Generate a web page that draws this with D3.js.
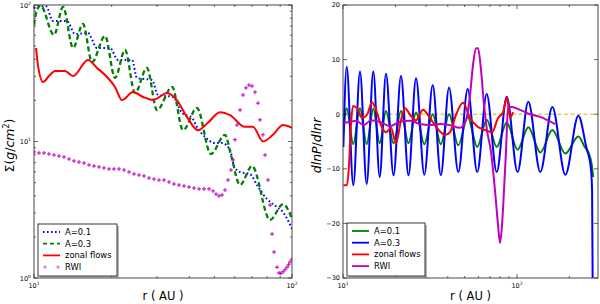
<!DOCTYPE html>
<html><head><meta charset="utf-8">
<script src="https://cdn.jsdelivr.net/npm/d3@7/dist/d3.min.js"></script>
<style>
body{margin:0;background:#fff}
svg{display:block}
text{font-family:"DejaVu Sans",sans-serif;fill:#000}
</style></head>
<body><svg id="c" width="600" height="304"></svg>
<script>
// ---------- DATA (left panel: surface density, [r (AU), Sigma (g/cm^2)]) ----------
const sigmaA01 = [[10,95.1],[10.55,98],[11.13,98],[11.85,76.3],[13.43,76.3],[14.42,61.3],[16.19,62.4],[17.55,48.4],[19.71,48.4],[21.16,39.6],[23.98,39.6],[25.07,29.2],[28.67,28.2],[30.24,21.9],[34.57,21.2],[37.47,16.2],[40.96,14.9],[42.8,12.8],[46.0,10.8],[50.3,9.75],[53.6,9.75],[57.5,8.66],[59.6,6.61],[62.9,5.98],[68.7,5.78],[73.1,4.80],[80.0,3.79],[87.5,3.31],[92.3,3.04],[100,2.29]];
const sigmaA03 = [[10,71.4],[10.27,92],[10.6,99],[11.95,60.3],[12.96,96.7],[14.17,48.5],[15.48,72.6],[16.79,38.2],[18.85,59.3],[20.61,29.2],[22.53,46.8],[24.63,22.7],[27.4,34.6],[29.97,17.0],[34.3,25.1],[37.8,12.1],[42.8,17.6],[48.5,8.1],[55.0,11.2],[58.0,7.96],[62.9,4.8],[70.0,6.61],[82.2,2.66],[92.3,3.48],[100,2.71]];
const sigmaZonal = [[10.18,48.4],[10.36,36.3],[10.84,27.3],[11.43,30.2],[12.06,32.9],[13.19,32.9],[14.17,30.2],[16.19,39.6],[17.55,34.6],[19.19,29.7],[20.61,25.1],[21.94,20.1],[24.19,23.0],[26.5,21.2],[28.9,20.1],[32.8,22.7],[35.8,20.1],[39.2,15.1],[43.2,12.1],[47.2,13.7],[52.6,16.4],[57.5,15.6],[65.7,12.8],[70.6,12.8],[77.2,10.0],[84.4,11.2],[92.3,13.2],[100,12.6]];
const sigmaRWI = [[10.00,8.38],[10.45,8.24],[10.93,8.24],[11.43,8.10],[11.95,7.96],[12.50,7.83],[13.07,7.70],[13.67,7.44],[14.29,7.20],[14.94,7.07],[15.62,6.96],[16.34,6.73],[17.08,6.61],[17.86,6.51],[18.67,6.40],[19.53,6.29],[20.42,6.29],[21.35,6.29],[22.33,6.18],[23.35,5.98],[24.41,5.78],[25.53,5.68],[26.69,5.59],[27.91,5.40],[29.18,5.31],[30.51,5.22],[31.90,5.22],[33.37,5.05],[34.88,4.88],[36.48,4.80],[38.14,4.72],[39.88,4.64],[41.70,4.56],[43.61,4.49],[45.60,4.49],[47.69,4.49],[49.42,4.34],[50.75,4.12],[52.13,3.99],[53.55,4.06],[55.0,4.41],[56.5,5.22],[58.0,6.18],[59.1,7.32],[60.1,10.3],[61.2,13.2],[62.9,17.0],[64.6,21.9],[66.3,24.7],[68.1,25.9],[70.0,25.5],[71.9,23.0],[73.8,19.1],[75.2,14.4],[77.2,11.2],[78.6,7.96],[80.7,5.22],[82.2,3.42],[83.7,2.10],[85.2,1.55],[87.5,1.20],[89.0,1.09],[90.5,1.08],[92.3,1.11],[94.0,1.15],[95.6,1.20],[97.0,1.25],[98.2,1.31],[100,1.37]];

// ---------- DATA (right panel: dlnP/dlnr, [r (AU), value]) ----------
const dlnpA01 = [[10.05,-3.5],[10.50,1.1],[11.46,-5.5],[12.52,1.1],[13.68,-5.5],[14.93,1.0],[16.25,-5.3],[17.66,0.6],[19.51,-5.3],[21.54,0.6],[23.79,-5.3],[26.28,0.3],[29.33,-5.5],[32.78,0.0],[36.48,-5.5],[40.67,0.0],[45.98,-5.7],[52.07,-0.5],[59.06,-6.0],[66.97,-1.0],[76.43,-6.0],[87.28,-1.5],[100.7,-6.5],[116.1,-2.4],[136.1,-7.0],[159.6,-2.9],[189.6,-7.2],[225.1,-4.1],[245,-6],[257,-7],[268,-9],[274,-11.5]];
const dlnpA03 = [[10.05,-6],[10.50,8.7],[11.46,-13.0],[12.52,7.8],[13.68,-12.8],[14.93,7.8],[16.25,-11.5],[17.66,7.4],[19.51,-11.2],[21.54,7.0],[23.79,-11.2],[26.28,6.6],[29.33,-11.1],[32.78,5.35],[36.48,-11.2],[40.67,4.9],[45.98,-10.6],[52.07,4.6],[59.06,-10.6],[66.97,3.7],[76.43,-10.6],[87.28,3.2],[100.7,-10.6],[116.1,2.3],[136.1,-10.6],[159.6,1.3],[189.6,-11.1],[225.1,-0.3],[250,-6],[266,-10],[270,-14],[272,-30]];
const dlnpZonal = [[10.07,-13.0],[10.54,-13.0],[10.83,-9.3],[11.11,-2.0],[11.41,1.5],[12.04,1.1],[12.86,-0.7],[13.74,-0.1],[14.68,2.2],[15.48,0.8],[16.53,-2.0],[17.66,-3.3],[18.87,-2.5],[20.16,-5.3],[21.54,-1.1],[22.71,1.1],[24.27,-0.1],[26.28,-1.1],[28.83,0.8],[31.62,-0.7],[34.68,-2.5],[38.56,-3.8],[41.21,-3.3],[44.61,-0.1],[48.94,2.1],[53.70,-0.7],[58.90,-2.2],[65.5,-2.9],[71.8,-3.3],[77.8,-0.7],[83.1,0.4],[87.6,3.0],[91.2,-0.7],[94.8,0.4]];
const dlnpRWI = [[10.07,-1.6],[10.97,-1.4],[11.88,-1.2],[13.2,-2.0],[14.49,-1.1],[16.31,-1.4],[18.63,-2.2],[21.26,-1.4],[24.27,-1.2],[27.71,-1.8],[31.62,-2.0],[36.10,-1.8],[41.21,-2.0],[47.03,-2.5],[50.92,-1.1],[53.70,3.5],[55.86,9.0],[58.12,12.1],[59.69,12.1],[62.1,8.1],[64.6,1.7],[67.2,-2.9],[70.9,-6.9],[74.7,-13.9],[77.8,-20.3],[79.9,-23.6],[82.0,-20.3],[84.2,-13.9],[86.5,-6.6],[88.8,1.3],[93.6,1.3],[104.0,0.8],[118.8,0.0],[135.6,-0.5],[165.4,-1.8]];

const legendLeft = ["A=0.1","A=0.3","zonal flows","RWI"];
const legendRight = ["A=0.1","A=0.3","zonal flows","RWI"];
const leftYTicks = [1,10,100];
const leftXTicks = [10,100];
const rightYTicks = [-30,-20,-10,0,10,20];
const rightXTicks = [10,100];

// ---------- COLORS ----------
const C = {b:"#0000ff", g:"#007f00", r:"#ff0000", m:"#bf00bf", y:"#bfbf00"};

const svg = d3.select("#c");

function supLabel(sel, base, exp, fs){
  sel.append("tspan").text(base);
  sel.append("tspan").attr("dy",-fs*0.45).attr("font-size",fs*0.7).text(exp);
}

function frameAndTicks(g, x, y, xMaj, xMin, yMaj, yMin, box){
  const [x0,x1,y0,y1] = box;
  const t = g.append("g").attr("stroke","#000").attr("stroke-width",0.6);
  xMaj.forEach(v=>{const px=x(v);
    t.append("line").attr("x1",px).attr("x2",px).attr("y1",y1).attr("y2",y1-4);
    t.append("line").attr("x1",px).attr("x2",px).attr("y1",y0).attr("y2",y0+4);});
  xMin.forEach(v=>{const px=x(v);
    t.append("line").attr("x1",px).attr("x2",px).attr("y1",y1).attr("y2",y1-2);
    t.append("line").attr("x1",px).attr("x2",px).attr("y1",y0).attr("y2",y0+2);});
  yMaj.forEach(v=>{const py=y(v);
    t.append("line").attr("x1",x0).attr("x2",x0+4).attr("y1",py).attr("y2",py);
    t.append("line").attr("x1",x1).attr("x2",x1-4).attr("y1",py).attr("y2",py);});
  yMin.forEach(v=>{const py=y(v);
    t.append("line").attr("x1",x0).attr("x2",x0+2).attr("y1",py).attr("y2",py);
    t.append("line").attr("x1",x1).attr("x2",x1-2).attr("y1",py).attr("y2",py);});
  g.append("rect").attr("x",x0).attr("y",y0).attr("width",x1-x0).attr("height",y1-y0)
    .attr("fill","none").attr("stroke","#333").attr("stroke-width",0.9);
}

function minorLog(lo, hi){
  const out=[];
  for(let d=1; d<=1000; d*=10) for(let k=2;k<=9;k++){const v=k*d; if(v>lo && v<hi) out.push(v);}
  return out;
}

function legend(g, x, y, w, h, items){
  g.append("rect").attr("x",x+2).attr("y",y+2).attr("width",w).attr("height",h).attr("fill","#888").attr("opacity",0.6);
  g.append("rect").attr("x",x).attr("y",y).attr("width",w).attr("height",h).attr("fill","#fff").attr("stroke","#222").attr("stroke-width",0.9);
  items.forEach((it,i)=>{
    const cy = y+8+i*11.7;
    if(it.marker){
      [x+7,x+20].forEach(mx=>{
        g.append("path").attr("d",`M${mx-2},${cy}h4M${mx},${cy-2}v4`).attr("stroke",it.color).attr("stroke-width",0.8).attr("opacity",0.7);
      });
    } else {
      g.append("line").attr("x1",x+5).attr("x2",x+22).attr("y1",cy).attr("y2",cy)
        .attr("stroke",it.color).attr("stroke-width",it.sw||1.8).attr("stroke-dasharray",it.dash||null);
    }
    g.append("text").attr("x",x+27).attr("y",cy+3).attr("font-size",8.4).text(it.label);
  });
}

// ================= LEFT PANEL =================
{
  const box=[34,292,5,278];
  const x=d3.scaleLog().domain([10,100]).range([box[0],box[1]]);
  const y=d3.scaleLog().domain([1,100]).range([box[3],box[2]]);
  const g=svg.append("g");
  g.append("clipPath").attr("id","clipL").append("rect").attr("x",box[0]).attr("y",box[2]).attr("width",box[1]-box[0]).attr("height",box[3]-box[2]);
  const pg=g.append("g").attr("clip-path","url(#clipL)");
  const line=d3.line().x(d=>x(d[0])).y(d=>y(d[1])).curve(d3.curveMonotoneX);
  pg.append("path").attr("d",line(sigmaA01)).attr("fill","none").attr("stroke",C.b).attr("stroke-width",2).attr("stroke-dasharray","1.6,2.4");
  pg.append("path").attr("d",line(sigmaA03)).attr("fill","none").attr("stroke",C.g).attr("stroke-width",2.3).attr("stroke-dasharray","5,3");
  pg.append("path").attr("d",line(sigmaZonal)).attr("fill","none").attr("stroke",C.r).attr("stroke-width",2);
  pg.selectAll(".m").data(sigmaRWI).enter().append("path")
    .attr("d",d=>{const px=x(d[0]),py=y(d[1]);return `M${px-2},${py}h4M${px},${py-2}v4`;})
    .attr("stroke",C.m).attr("stroke-width",1);
  frameAndTicks(g,x,y,leftXTicks,minorLog(10,100),leftYTicks,minorLog(1,100),box);
  leftYTicks.forEach(v=>{
    const t=g.append("text").attr("x",box[0]-3).attr("y",y(v)+2.5).attr("text-anchor","end").attr("font-size",6.5);
    supLabel(t,"10",String(Math.round(Math.log10(v))),6.5);
  });
  leftXTicks.forEach(v=>{
    const t=g.append("text").attr("x",x(v)).attr("y",box[3]+10).attr("text-anchor","middle").attr("font-size",6.5);
    supLabel(t,"10",String(Math.round(Math.log10(v))),6.5);
  });
  g.append("text").attr("x",(box[0]+box[1])/2).attr("y",300).attr("text-anchor","middle").attr("font-size",11.5).text("r ( AU )");
  const yl=g.append("text").attr("transform",`translate(14,${(box[2]+box[3])/2+4}) rotate(-90)`).attr("text-anchor","middle").attr("font-size",12.5);
  yl.append("tspan").text("Σ(");
  yl.append("tspan").attr("font-style","italic").text("g");
  yl.append("tspan").text("/");
  yl.append("tspan").attr("font-style","italic").text("cm");
  yl.append("tspan").attr("dy",-5).attr("font-size",8).text("2");
  yl.append("tspan").attr("dy",5).text(")");
  legend(g,38,224,79,52,[
    {label:legendLeft[0],color:C.b,dash:"1.6,2.4"},
    {label:legendLeft[1],color:C.g,dash:"4,3"},
    {label:legendLeft[2],color:C.r},
    {label:legendLeft[3],color:C.m,marker:true}]);
}

// ================= RIGHT PANEL =================
{
  const box=[343,598,5,278];
  const x=d3.scaleLog().domain([10,292]).range([box[0],box[1]]);
  const y=d3.scaleLinear().domain([-30,20]).range([box[3],box[2]]);
  const g=svg.append("g");
  g.append("clipPath").attr("id","clipR").append("rect").attr("x",box[0]).attr("y",box[2]).attr("width",box[1]-box[0]).attr("height",box[3]-box[2]);
  const pg=g.append("g").attr("clip-path","url(#clipR)");
  pg.append("line").attr("x1",box[0]).attr("x2",box[1]).attr("y1",y(0)).attr("y2",y(0)).attr("stroke",C.y).attr("stroke-width",1).attr("stroke-dasharray","4,2.5");
  const line=d3.line().x(d=>x(d[0])).y(d=>y(d[1])).curve(d3.curveMonotoneX);
  pg.append("path").attr("d",line(dlnpA01)).attr("fill","none").attr("stroke",C.g).attr("stroke-width",2);
  pg.append("path").attr("d",line(dlnpA03)).attr("fill","none").attr("stroke",C.b).attr("stroke-width",2);
  pg.append("path").attr("d",line(dlnpZonal)).attr("fill","none").attr("stroke",C.r).attr("stroke-width",2);
  pg.append("path").attr("d",line(dlnpRWI)).attr("fill","none").attr("stroke",C.m).attr("stroke-width",2);
  frameAndTicks(g,x,y,rightXTicks,minorLog(10,292),rightYTicks,[],box);
  rightYTicks.forEach(v=>{
    g.append("text").attr("x",box[0]-3).attr("y",y(v)+2.3).attr("text-anchor","end").attr("font-size",6.5).text(v<0?"\u2212"+Math.abs(v):String(v));
  });
  rightXTicks.forEach(v=>{
    const t=g.append("text").attr("x",x(v)).attr("y",box[3]+10).attr("text-anchor","middle").attr("font-size",6.5);
    supLabel(t,"10",String(Math.round(Math.log10(v))),6.5);
  });
  g.append("text").attr("x",(box[0]+box[1])/2).attr("y",300).attr("text-anchor","middle").attr("font-size",11.5).text("r ( AU )");
  const yl=g.append("text").attr("transform",`translate(321,${(box[2]+box[3])/2+4}) rotate(-90)`).attr("text-anchor","middle").attr("font-size",12.5);
  yl.append("tspan").attr("font-style","italic").text("dlnP");
  yl.append("tspan").text("/");
  yl.append("tspan").attr("font-style","italic").text("dlnr");
  legend(g,347,223,78,53,[
    {label:legendRight[0],color:C.g},
    {label:legendRight[1],color:C.b},
    {label:legendRight[2],color:C.r},
    {label:legendRight[3],color:C.m}]);
}
</script></body></html>
